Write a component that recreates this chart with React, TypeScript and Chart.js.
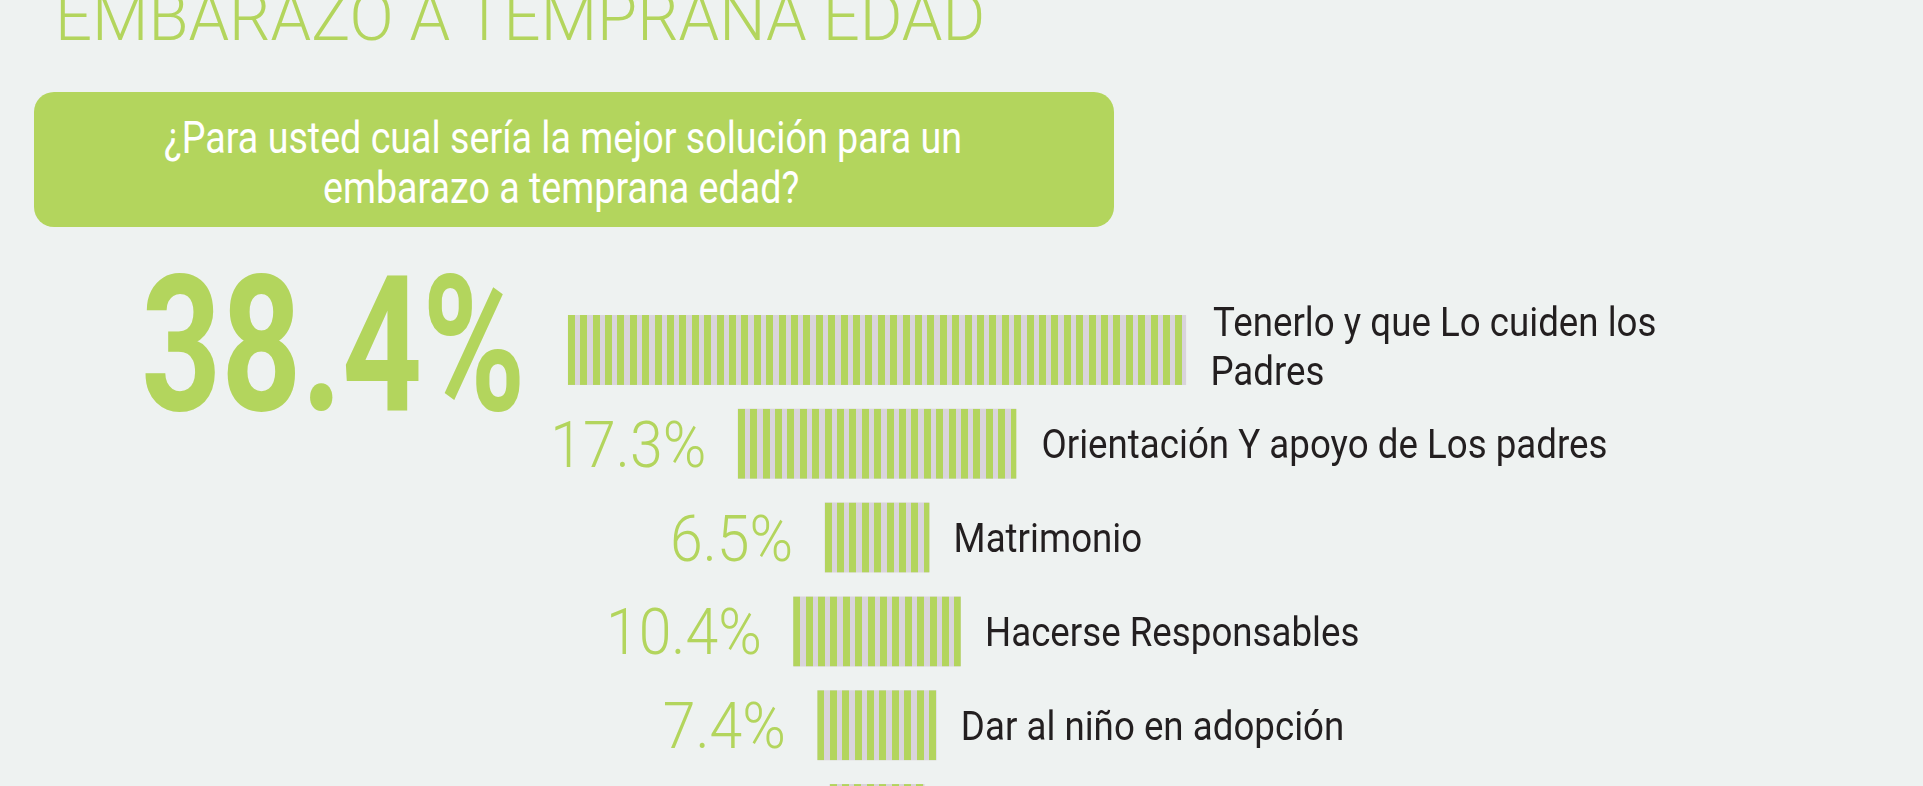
import React, { useEffect, useMemo, useRef } from "react";
import { Chart, registerables } from "chart.js";

Chart.register(...registerables);

// ---------------- data ----------------
const categories: (string | string[])[] = [
  ["Tenerlo y que Lo cuiden los", "Padres"],
  "Orientación Y apoyo de Los padres",
  "Matrimonio",
  "Hacerse Responsables",
  "Dar al niño en adopción",
  "",
];
const percentages: number[] = [38.4, 17.3, 6.5, 10.4, 7.4, 5.9];
const percentLabels: string[] = ["38.4%", "17.3%", "6.5%", "10.4%", "7.4%", ""];
const titleText = "EMBARAZO A TEMPRANA EDAD";
const questionLines: string[] = [
  "¿Para usted cual sería la mejor solución para un",
  "embarazo a temprana edad?",
];
const axisMin = -50;
const axisMax = 50;

// ---------------- styles ----------------
const BG = "#eef2f1";
const GREEN = "#b3d55d";
const STRIPE_BG = "#d9d4dc";
const DARK = "#231f20";
const FAMILY = 'Roboto, "Noto Sans", sans-serif';
const CW = 1923;
const CH = 880;
const STRIPE_PERIOD = 12.4;
const STRIPE_W = 7;
const PCT_GAP = 34;
const BIG_GAP = 48;
const BIG_DY = -7;
const CAT_GAP = 27;
const CAT_LINE_H = 48.5;
const CAT_MULTI_DY = -4;

let _mctx: CanvasRenderingContext2D | null = null;
function mctx(): CanvasRenderingContext2D {
  if (!_mctx) _mctx = document.createElement("canvas").getContext("2d");
  return _mctx as CanvasRenderingContext2D;
}

type Cal = { size: number; weight: number; font: string; sx: number };

function calib(
  ctx: CanvasRenderingContext2D,
  weight: number,
  capSample: string,
  capH: number,
  widthSample: string,
  targetW: number
): Cal {
  ctx.font = `${weight} 100px ${FAMILY}`;
  const a = ctx.measureText(capSample).actualBoundingBoxAscent || 71;
  const size = (100 * capH) / a;
  const font = `${weight} ${size.toFixed(2)}px ${FAMILY}`;
  ctx.font = font;
  const m = ctx.measureText(widthSample);
  const ink = m.actualBoundingBoxLeft + m.actualBoundingBoxRight;
  return { size, weight, font, sx: targetW / ink };
}

function TextAt(props: {
  text: string;
  cal: Cal;
  inkLeft?: number;
  inkCenter?: number;
  baseline: number;
  color: string;
}) {
  const { text, cal, inkLeft, inkCenter, baseline, color } = props;
  const c = mctx();
  c.font = cal.font;
  const m = c.measureText(text);
  const inkW = (m.actualBoundingBoxLeft + m.actualBoundingBoxRight) * cal.sx;
  const startInk = inkCenter != null ? inkCenter - inkW / 2 : (inkLeft as number);
  const left = startInk + m.actualBoundingBoxLeft * cal.sx;
  const fA = m.fontBoundingBoxAscent;
  const fD = m.fontBoundingBoxDescent;
  const lh = cal.size;
  const baseFromTop = (lh - (fA + fD)) / 2 + fA;
  return (
    <div
      style={{
        position: "absolute",
        left,
        top: baseline - baseFromTop,
        fontFamily: FAMILY,
        fontWeight: cal.weight,
        fontSize: cal.size + "px",
        lineHeight: lh + "px",
        color,
        whiteSpace: "nowrap",
        transform: `scaleX(${cal.sx})`,
        transformOrigin: "0 0",
        margin: 0,
      }}
    >
      {text}
    </div>
  );
}

function barRect(el: any) {
  const p = el.getProps(["x", "base", "y", "height"], true);
  const left = Math.min(p.x, p.base);
  const right = Math.max(p.x, p.base);
  return { left, right, y: p.y, top: p.y - p.height / 2, height: p.height };
}

const stripePlugin = {
  id: "stripes",
  afterDatasetsDraw(chart: any) {
    const ctx: CanvasRenderingContext2D = chart.ctx;
    const meta = chart.getDatasetMeta(0);
    meta.data.forEach((el: any) => {
      const r = barRect(el);
      ctx.save();
      ctx.beginPath();
      ctx.rect(r.left, r.top, r.right - r.left, r.height);
      ctx.clip();
      ctx.fillStyle = GREEN;
      for (let sx = r.left; sx < r.right; sx += STRIPE_PERIOD) {
        ctx.fillRect(Math.round(sx), r.top, STRIPE_W, r.height);
      }
      ctx.restore();
    });
  },
};

const labelPlugin = {
  id: "barLabels",
  afterDatasetsDraw(chart: any) {
    const ctx: CanvasRenderingContext2D = chart.ctx;
    const big = calib(ctx, 700, "8", 138, "38.4%", 375);
    const pct = calib(ctx, 300, "5", 46.5, "6.5%", 117);
    const cat = calib(ctx, 400, "M", 29, "Matrimonio", 185);
    const meta = chart.getDatasetMeta(0);
    const labels = chart.data.labels;
    meta.data.forEach((el: any, i: number) => {
      const r = barRect(el);
      const txt = percentLabels[i];
      if (txt) {
        const isBig = i === 0;
        const cal = isBig ? big : pct;
        ctx.save();
        ctx.font = cal.font;
        ctx.textAlign = "left";
        ctx.textBaseline = "alphabetic";
        const m = ctx.measureText(txt);
        const baseline =
          r.y + (m.actualBoundingBoxAscent - m.actualBoundingBoxDescent) / 2 + (isBig ? BIG_DY : 0);
        const x0 = r.left - (isBig ? BIG_GAP : PCT_GAP) - m.actualBoundingBoxRight * cal.sx;
        ctx.translate(x0, baseline);
        ctx.scale(cal.sx, 1);
        ctx.fillStyle = GREEN;
        ctx.fillText(txt, 0, 0);
        ctx.restore();
      }
      const lab = labels[i];
      const lines: string[] = Array.isArray(lab) ? lab : [lab];
      ctx.save();
      ctx.font = cat.font;
      ctx.textAlign = "left";
      ctx.textBaseline = "alphabetic";
      const capA = ctx.measureText("H").actualBoundingBoxAscent;
      const n = lines.length;
      lines.forEach((line, j) => {
        if (!line) return;
        const m = ctx.measureText(line);
        const cy = r.y + (j - (n - 1) / 2) * CAT_LINE_H + (n > 1 ? CAT_MULTI_DY : 0);
        const x0 = r.right + CAT_GAP + m.actualBoundingBoxLeft * cat.sx;
        ctx.save();
        ctx.translate(x0, cy + capA / 2);
        ctx.scale(cat.sx, 1);
        ctx.fillStyle = DARK;
        ctx.fillText(line, 0, 0);
        ctx.restore();
      });
      ctx.restore();
    });
  },
};

export default function App() {
  const canvasRef = useRef<HTMLCanvasElement>(null);

  useEffect(() => {
    const canvas = canvasRef.current as HTMLCanvasElement;
    const chart = new Chart(canvas, {
      type: "bar",
      data: {
        labels: categories as any,
        datasets: [
          {
            data: percentages.map((v) => [-v / 2, v / 2]) as any,
            backgroundColor: STRIPE_BG,
            borderWidth: 0,
            borderSkipped: false,
            barPercentage: 0.746,
            categoryPercentage: 1,
          },
        ],
      },
      options: {
        indexAxis: "y",
        responsive: false,
        animation: false,
        events: [],
        layout: { padding: { top: 303, bottom: 14, left: 72, right: 241 } },
        scales: {
          x: { type: "linear", min: axisMin, max: axisMax, display: false },
          y: { type: "category", display: false, offset: true },
        },
        plugins: {
          legend: { display: false },
          tooltip: { enabled: false },
          title: { display: false },
        },
      } as any,
      plugins: [stripePlugin, labelPlugin],
    });
    return () => chart.destroy();
  }, []);

  const cal = useMemo(() => {
    const c = mctx();
    return {
      title: calib(c, 300, "E", 48, titleText, 922),
      box: calib(c, 400, "P", 31.5, questionLines[0], 795),
    };
  }, []);

  return (
    <div style={{ position: "fixed", inset: 0, overflow: "hidden", background: BG }}>
      <TextAt text={titleText} cal={cal.title} inkLeft={61} baseline={40} color={GREEN} />
      <div
        style={{
          position: "absolute",
          left: 34,
          top: 92,
          width: 1080,
          height: 135,
          borderRadius: 20,
          background: GREEN,
        }}
      />
      <TextAt text={questionLines[0]} cal={cal.box} inkCenter={562} baseline={153} color="#ffffff" />
      <TextAt text={questionLines[1]} cal={cal.box} inkCenter={562} baseline={203} color="#ffffff" />
      <canvas
        ref={canvasRef}
        width={CW}
        height={CH}
        style={{ position: "absolute", left: 0, top: 0, width: CW, height: CH }}
      />
    </div>
  );
}
